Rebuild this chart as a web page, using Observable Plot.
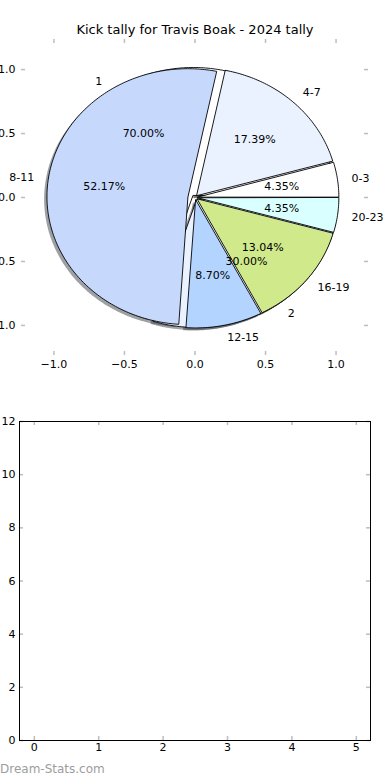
<!DOCTYPE html>
<html><head><meta charset="utf-8">
<script src="https://cdn.jsdelivr.net/npm/d3@7"></script>
<script src="https://cdn.jsdelivr.net/npm/@observablehq/plot@0.6"></script>
<style>
body{margin:0;background:#fff;overflow:hidden;font-family:"DejaVu Sans",sans-serif}
#wrap{position:relative;width:390px;height:780px;overflow:hidden;background:#fff}
.abs{position:absolute;left:0}
#title{position:absolute;left:0;width:390px;top:22px;text-align:center;font-size:13px;color:#000;font-family:"DejaVu Sans",sans-serif}
#wm{position:absolute;left:0;top:762px;font-size:12px;color:#9d9d9d;font-family:"DejaVu Sans",sans-serif}
</style></head><body><div id="wrap"><div id="title"></div><div id="wm"></div></div>
<script>
// ---- data ----
const title = "Kick tally for Travis Boak - 2024 tally";
const pieALabels = ["1", "2"];
const pieAValues = [7, 3];
const pieBLabels = ["0-3", "4-7", "8-11", "12-15", "16-19", "20-23"];
const pieBValues = [1, 4, 12, 2, 3, 1];
const pieXTicks = [-1, -0.5, 0, 0.5, 1];
const pieYTicks = [-1, -0.5, 0, 0.5, 1];
const barXTicks = [0, 1, 2, 3, 4, 5];
const barYTicks = [0, 2, 4, 6, 8, 10, 12];
const watermark = "Dream-Stats.com";

// ---- style ----
const palette = ["#ffffff", "#eaf1ff", "#c6d9fd", "#b3d4ff", "#d0e98a", "#d9ffff"];
const pieAExplode = [0.02, 0.02];
const pieBExplode = [0.02, 0.02, 0.05, 0.02, 0.02, 0.02];

function buildPie(name, labels, values, explode, colors) {
  const total = d3.sum(values);
  let acc = 0;
  return labels.map((lab, i) => {
    const a0 = acc / total * 360; acc += values[i]; const a1 = acc / total * 360;
    const m = (a0 + a1) / 2 * Math.PI / 180;
    const cx = explode[i] * Math.cos(m), cy = explode[i] * Math.sin(m);
    const pts = [[cx, cy]];
    const n = Math.max(2, Math.ceil(a1 - a0));
    for (let k = 0; k <= n; k++) {
      const a = (a0 + (a1 - a0) * k / n) * Math.PI / 180;
      pts.push([cx + Math.cos(a), cy + Math.sin(a)]);
    }
    return {key: name + i, label: lab, pct: values[i] / total * 100, color: colors[i], cx, cy, m, pts};
  });
}
const pieA = buildPie("A", pieALabels, pieAValues, pieAExplode, palette);
const pieB = buildPie("B", pieBLabels, pieBValues, pieBExplode, palette);
const all = [...pieA, ...pieB];
function shadowColor(c) { const r = d3.rgb(c); return `rgba(${Math.round(r.r*0.3)},${Math.round(r.g*0.3)},${Math.round(r.b*0.3)},0.5)`; }
const shadowRows = all.flatMap(w => w.pts.map(([x, y]) => ({key: "s" + w.key, x: x - 0.02, y: y - 0.02, fill: shadowColor(w.color)})));
const rowsA = pieA.flatMap(w => w.pts.map(([x, y]) => ({key: w.key, x, y, fill: w.color})));
const rowsB = pieB.flatMap(w => w.pts.map(([x, y]) => ({key: w.key, x, y, fill: w.color})));
const labelRows = all.map(w => ({x: w.cx + 1.1 * Math.cos(w.m), y: w.cy + 1.1 * Math.sin(w.m), text: w.label}));
const pctRows = all.map(w => ({x: w.cx + 0.6 * Math.cos(w.m), y: w.cy + 0.6 * Math.sin(w.m), text: w.pct.toFixed(2) + "%"}));
const fmt = d => (d < 0 ? "\u2212" : "") + Math.abs(d).toFixed(1);

const tickStyle = {stroke: "#bdbdbd", strokeWidth: 1.5};
const tW = 390 - 21 - 22, tH = 380 - 39 - 25;
const topPlot = Plot.plot({
  width: 390, height: 380, marginTop: 39, marginBottom: 25, marginLeft: 21, marginRight: 22,
  x: {domain: [-1.23, 1.23], label: null}, y: {domain: [-1.235, 1.235], label: null},
  color: {type: "identity"},
  style: {fontFamily: "DejaVu Sans", fontSize: "11px", color: "black", background: "transparent"},
  marks: [
    Plot.tickX(pieXTicks, {x: d => d, ...tickStyle, insetBottom: tH - 4}),
    Plot.tickX(pieXTicks, {x: d => d, ...tickStyle, insetTop: tH - 4}),
    Plot.tickY(pieYTicks, {y: d => d, ...tickStyle, insetRight: tW - 4}),
    Plot.tickY(pieYTicks, {y: d => d, ...tickStyle, insetLeft: tW - 4}),
    Plot.line(shadowRows, {x: "x", y: "y", z: "key", fill: "fill", stroke: "none", curve: "linear-closed"}),
    Plot.line(rowsA, {x: "x", y: "y", z: "key", fill: "fill", stroke: "black", strokeWidth: 0.9, curve: "linear-closed"}),
    Plot.line(rowsB, {x: "x", y: "y", z: "key", fill: "fill", stroke: "black", strokeWidth: 0.9, curve: "linear-closed"}),
    Plot.text(labelRows.filter(d => d.x > 0), {x: "x", y: "y", text: "text", textAnchor: "start", fill: "black", fontSize: 11}),
    Plot.text(labelRows.filter(d => d.x <= 0), {x: "x", y: "y", text: "text", textAnchor: "end", fill: "black", fontSize: 11}),
    Plot.text(pctRows, {x: "x", y: "y", text: "text", fill: "black", fontSize: 11}),
    Plot.axisX({ticks: pieXTicks, anchor: "bottom", tickSize: 0, tickPadding: 5, tickFormat: fmt, fill: "black", label: null}),
    Plot.axisY({ticks: pieYTicks, anchor: "left", tickSize: 0, tickPadding: 6, tickFormat: fmt, fill: "black", label: null})
  ]
});

const bW = 390 - 19 - 20, bH = 370 - 31 - 20;
const botPlot = Plot.plot({
  width: 390, height: 370, marginTop: 31, marginBottom: 20, marginLeft: 19, marginRight: 20,
  x: {domain: [-0.23, 5.22], label: null}, y: {domain: [0, 12], label: null},
  style: {fontFamily: "DejaVu Sans", fontSize: "11px", color: "black", background: "transparent"},
  marks: [
    Plot.tickX(barXTicks, {x: d => d, ...tickStyle, insetBottom: bH - 4}),
    Plot.tickX(barXTicks, {x: d => d, ...tickStyle, insetTop: bH - 4}),
    Plot.tickY(barYTicks, {y: d => d, ...tickStyle, insetRight: bW - 4}),
    Plot.tickY(barYTicks, {y: d => d, ...tickStyle, insetLeft: bW - 4}),
    Plot.frame({stroke: "black", strokeWidth: 1}),
    Plot.axisX({ticks: barXTicks, anchor: "bottom", tickSize: 0, tickPadding: 3, tickFormat: d => String(d), fill: "black", label: null}),
    Plot.axisY({ticks: barYTicks, anchor: "left", tickSize: 0, tickPadding: 4, tickFormat: d => String(d), fill: "black", label: null})
  ]
});

const wrap = document.getElementById("wrap");
topPlot.classList.add("abs"); topPlot.style.top = "0px";
botPlot.classList.add("abs"); botPlot.style.top = "390px";
wrap.appendChild(topPlot);
wrap.appendChild(botPlot);
document.getElementById("title").textContent = title;
document.getElementById("wm").textContent = watermark;
</script></body></html>
